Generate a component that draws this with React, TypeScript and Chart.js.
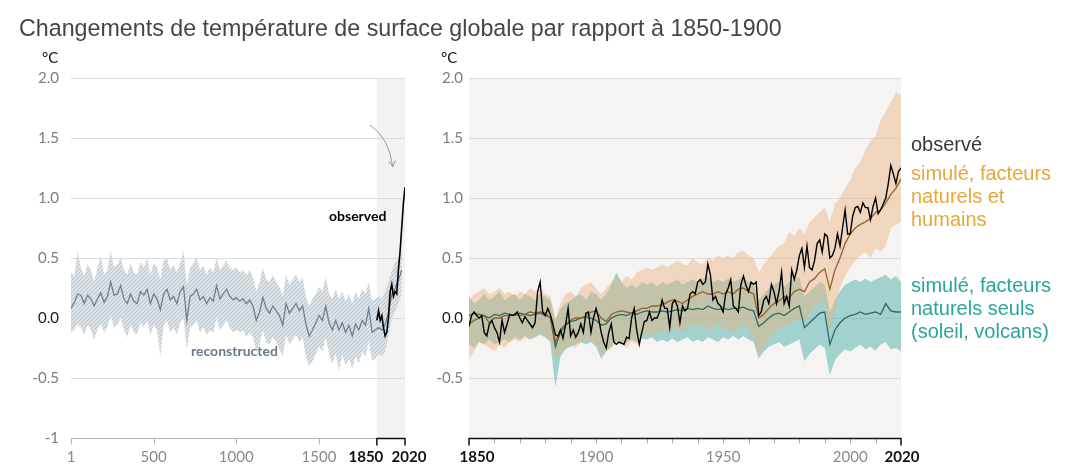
import React, { useEffect, useRef } from 'react';
import { Chart, registerables } from 'chart.js';

Chart.register(...registerables);

// ---------- DATA ----------
// Left panel: reconstructed (every 20 years from year 1)
const RECON_START = 1;
const RECON_STEP = 20;
const RECON_MEDIAN = [
  0.08, 0.13, 0.20, 0.19, 0.12, 0.19, 0.16, 0.10, 0.16, 0.21,
  0.13, 0.18, 0.30, 0.19, 0.20, 0.27, 0.16, 0.12, 0.20, 0.14,
  0.12, 0.22, 0.19, 0.24, 0.12, 0.20, 0.16, 0.07, 0.20, 0.24,
  0.15, 0.18, 0.12, 0.22, 0.26, -0.02, 0.18, 0.20, 0.24, 0.15,
  0.18, 0.12, 0.17, 0.14, 0.27, 0.16, 0.20, 0.24, 0.18, 0.15,
  0.17, 0.14, 0.16, 0.12, 0.15, 0.10, -0.02, 0.05, 0.17, 0.08,
  0.04, 0.10, 0.06, 0.02, -0.06, 0.12, 0.04, 0.08, 0.12, 0.06,
  0.10, -0.05, -0.15, -0.10, -0.04, 0.02, -0.02, 0.10, -0.04, -0.10,
  -0.02, -0.10, -0.04, -0.12, -0.06, -0.15, -0.05, -0.10, -0.02, -0.06,
  0.08, -0.12, -0.10, -0.08, -0.10, -0.05, 0.05, 0.20, 0.25, 0.32,
  0.40,
];
const RECON_UPPER = [
  0.38, 0.35, 0.55, 0.42, 0.35, 0.45, 0.40, 0.30, 0.42, 0.52,
  0.36, 0.40, 0.56, 0.42, 0.45, 0.50, 0.40, 0.36, 0.45, 0.38,
  0.36, 0.47, 0.42, 0.50, 0.36, 0.46, 0.42, 0.32, 0.48, 0.50,
  0.40, 0.44, 0.38, 0.46, 0.56, 0.28, 0.42, 0.46, 0.50, 0.40,
  0.44, 0.36, 0.42, 0.38, 0.50, 0.40, 0.44, 0.48, 0.42, 0.40,
  0.42, 0.38, 0.40, 0.36, 0.40, 0.34, 0.22, 0.30, 0.42, 0.32,
  0.30, 0.36, 0.30, 0.26, 0.18, 0.36, 0.28, 0.32, 0.36, 0.30,
  0.34, 0.18, 0.10, 0.16, 0.20, 0.26, 0.22, 0.34, 0.20, 0.16,
  0.24, 0.16, 0.22, 0.14, 0.20, 0.12, 0.22, 0.16, 0.24, 0.20,
  0.30, 0.14, 0.16, 0.18, 0.16, 0.22, 0.30, 0.40, 0.46, 0.50,
  0.56,
];
const RECON_LOWER = [
  -0.12, -0.10, -0.05, -0.08, -0.14, -0.06, -0.10, -0.18, -0.10, -0.05,
  -0.12, -0.08, 0.02, -0.08, -0.06, 0.00, -0.10, -0.16, -0.06, -0.12,
  -0.14, -0.04, -0.08, -0.02, -0.14, -0.06, -0.10, -0.32, -0.06, -0.02,
  -0.12, -0.08, -0.14, -0.04, 0.00, -0.26, -0.08, -0.06, -0.02, -0.12,
  -0.08, -0.14, -0.10, -0.12, 0.00, -0.10, -0.06, -0.02, -0.08, -0.12,
  -0.10, -0.12, -0.10, -0.16, -0.12, -0.16, -0.28, -0.22, -0.10, -0.20,
  -0.22, -0.16, -0.20, -0.26, -0.32, -0.14, -0.22, -0.18, -0.14, -0.20,
  -0.16, -0.32, -0.40, -0.36, -0.30, -0.24, -0.28, -0.16, -0.30, -0.38,
  -0.30, -0.44, -0.30, -0.40, -0.34, -0.42, -0.32, -0.38, -0.28, -0.32,
  -0.20, -0.36, -0.34, -0.30, -0.32, -0.28, -0.14, 0.00, 0.06, 0.12,
  0.22,
];

// Left panel: observed, decadal
const OBS_DECADAL_START = 1850;
const OBS_DECADAL_STEP = 10;
const OBS_DECADAL = [
  -0.02, 0.06, -0.02, 0.02, -0.08, -0.15, -0.12, 0.00, 0.22, 0.28,
  0.18, 0.22, 0.20, 0.40, 0.55, 0.75, 0.95, 1.09,
];

// Right panel: observed, annual 1850-2020
const OBS_START = 1850;
const OBS_ANNUAL = [
  -0.07, 0.02, 0.05, 0.02, 0.00, 0.02, -0.12, -0.15, -0.05, -0.02,
  -0.08, -0.12, -0.20, -0.02, -0.12, -0.05, 0.03, 0.02, 0.03, 0.05,
  0.00, -0.04, 0.01, -0.02, -0.05, -0.08, -0.04, 0.22, 0.30, 0.05,
  0.02, 0.08, 0.03, -0.05, -0.14, -0.15, -0.10, -0.17, -0.06, 0.08,
  -0.15, -0.10, -0.16, -0.12, -0.05, -0.12, 0.04, 0.05, -0.12, 0.00,
  0.08, 0.00, -0.12, -0.20, -0.25, -0.12, -0.05, -0.20, -0.22, -0.20,
  -0.21, -0.22, -0.16, -0.17, 0.00, 0.08, -0.10, -0.22, -0.12, -0.03,
  -0.02, 0.05, -0.02, 0.00, 0.00, 0.05, 0.15, 0.08, 0.08, -0.08,
  0.12, 0.15, 0.10, -0.04, 0.10, 0.06, 0.08, 0.20, 0.22, 0.20,
  0.30, 0.32, 0.28, 0.30, 0.45, 0.36, 0.15, 0.18, 0.12, 0.10,
  0.05, 0.20, 0.25, 0.32, 0.10, 0.08, 0.05, 0.28, 0.35, 0.27,
  0.22, 0.30, 0.28, 0.30, 0.02, 0.05, 0.15, 0.18, 0.12, 0.28,
  0.22, 0.12, 0.22, 0.38, 0.12, 0.18, 0.10, 0.40, 0.32, 0.40,
  0.52, 0.58, 0.42, 0.60, 0.42, 0.40, 0.48, 0.62, 0.65, 0.55,
  0.70, 0.68, 0.50, 0.52, 0.58, 0.70, 0.60, 0.75, 0.90, 0.70,
  0.70, 0.85, 0.92, 0.93, 0.88, 0.96, 0.92, 0.92, 0.82, 0.93,
  1.00, 0.87, 0.90, 0.95, 1.00, 1.12, 1.27, 1.20, 1.12, 1.22,
  1.25,
];

// Right panel: simulations, every 2 years 1850-2020
const SIM_START = 1850;
const SIM_STEP = 2;
const SIM_HUMAN_NATURAL = [
  -0.05, -0.02, 0.00, 0.02, -0.04, 0.00, 0.00, 0.02, 0.02, 0.03,
  0.02, 0.03, 0.05, 0.04, 0.05, 0.04, 0.00, -0.20, -0.10, -0.05,
  -0.02, 0.00, 0.00, 0.02, 0.05, 0.06, 0.00, -0.03, 0.03, 0.05,
  0.06, 0.05, 0.04, 0.06, 0.08, 0.08, 0.10, 0.10, 0.11, 0.13,
  0.15, 0.14, 0.12, 0.15, 0.18, 0.20, 0.22, 0.20, 0.20, 0.22,
  0.20, 0.22, 0.20, 0.24, 0.25, 0.22, 0.20, 0.00, 0.03, 0.08,
  0.12, 0.14, 0.18, 0.17, 0.22, 0.24, 0.22, 0.30, 0.33, 0.38,
  0.41, 0.24, 0.40, 0.50, 0.62, 0.70, 0.75, 0.78, 0.80, 0.83,
  0.88, 0.90, 0.96, 1.03, 1.08, 1.16,
];
const SIM_HUMAN_NATURAL_HI = [
  0.15, 0.20, 0.22, 0.25, 0.20, 0.22, 0.25, 0.20, 0.22, 0.18,
  0.22, 0.20, 0.25, 0.22, 0.25, 0.20, 0.18, 0.00, 0.12, 0.20,
  0.22, 0.18, 0.25, 0.28, 0.30, 0.25, 0.20, 0.25, 0.30, 0.35,
  0.30, 0.35, 0.32, 0.38, 0.40, 0.42, 0.40, 0.42, 0.45, 0.42,
  0.45, 0.48, 0.45, 0.44, 0.50, 0.46, 0.45, 0.50, 0.48, 0.52,
  0.50, 0.52, 0.50, 0.55, 0.56, 0.52, 0.50, 0.38, 0.45, 0.50,
  0.55, 0.60, 0.62, 0.72, 0.68, 0.75, 0.70, 0.80, 0.84, 0.88,
  0.92, 0.80, 0.95, 1.00, 1.08, 1.15, 1.25, 1.30, 1.40, 1.48,
  1.52, 1.65, 1.72, 1.80, 1.88, 1.86,
];
const SIM_HUMAN_NATURAL_LO = [
  -0.35, -0.28, -0.20, -0.22, -0.25, -0.28, -0.22, -0.25, -0.20, -0.18,
  -0.20, -0.16, -0.18, -0.15, -0.12, -0.15, -0.20, -0.35, -0.30, -0.25,
  -0.22, -0.25, -0.20, -0.18, -0.20, -0.22, -0.30, -0.28, -0.25, -0.20,
  -0.22, -0.25, -0.20, -0.22, -0.15, -0.12, -0.15, -0.12, -0.10, -0.12,
  -0.08, -0.10, -0.12, -0.08, -0.05, -0.08, -0.05, -0.10, -0.08, -0.05,
  -0.10, -0.08, -0.12, -0.08, -0.05, -0.10, -0.15, -0.32, -0.25, -0.18,
  -0.12, -0.10, -0.05, -0.08, -0.02, 0.00, -0.05, 0.05, 0.10, 0.12,
  0.15, -0.12, 0.05, 0.25, 0.35, 0.42, 0.48, 0.52, 0.55, 0.50,
  0.58, 0.55, 0.60, 0.75, 0.78, 0.80,
];
const SIM_NATURAL = [
  0.02, 0.04, 0.03, 0.02, 0.00, 0.03, 0.02, 0.04, 0.03, 0.02,
  0.04, 0.03, 0.02, 0.03, 0.04, 0.02, 0.01, -0.24, -0.12, -0.06,
  -0.03, -0.02, 0.00, 0.01, 0.00, -0.02, -0.06, -0.05, 0.00, 0.02,
  0.03, 0.02, 0.04, 0.03, 0.05, 0.06, 0.05, 0.05, 0.06, 0.05,
  0.06, 0.07, 0.06, 0.08, 0.07, 0.08, 0.07, 0.10, 0.08, 0.07,
  0.08, 0.07, 0.08, 0.08, 0.09, 0.07, 0.06, -0.07, -0.04, 0.00,
  0.03, 0.04, 0.02, 0.05, 0.08, 0.10, -0.08, -0.04, 0.00, 0.04,
  0.05, -0.22, -0.10, -0.04, 0.00, 0.02, 0.03, 0.05, 0.03, 0.04,
  0.05, 0.03, 0.12, 0.06, 0.05, 0.05,
];
const SIM_NATURAL_HI = [
  0.18, 0.12, 0.15, 0.20, 0.15, 0.18, 0.22, 0.15, 0.18, 0.20,
  0.15, 0.20, 0.18, 0.15, 0.20, 0.18, 0.15, -0.02, 0.08, 0.12,
  0.15, 0.18, 0.20, 0.15, 0.22, 0.20, 0.15, 0.20, 0.28, 0.38,
  0.30, 0.25, 0.28, 0.25, 0.30, 0.28, 0.30, 0.26, 0.30, 0.28,
  0.30, 0.32, 0.28, 0.30, 0.32, 0.30, 0.33, 0.35, 0.30, 0.32,
  0.30, 0.33, 0.30, 0.32, 0.34, 0.30, 0.28, 0.15, 0.20, 0.25,
  0.28, 0.30, 0.26, 0.30, 0.32, 0.34, 0.18, 0.22, 0.26, 0.30,
  0.28, 0.05, 0.15, 0.22, 0.28, 0.30, 0.32, 0.30, 0.33, 0.30,
  0.32, 0.34, 0.36, 0.32, 0.35, 0.30,
];
const SIM_NATURAL_LO = [
  -0.22, -0.25, -0.20, -0.22, -0.18, -0.22, -0.20, -0.18, -0.20, -0.16,
  -0.18, -0.15, -0.18, -0.16, -0.14, -0.16, -0.20, -0.58, -0.32, -0.26,
  -0.24, -0.22, -0.20, -0.22, -0.20, -0.24, -0.34, -0.28, -0.24, -0.20,
  -0.22, -0.20, -0.18, -0.20, -0.17, -0.18, -0.16, -0.20, -0.18, -0.20,
  -0.17, -0.20, -0.18, -0.16, -0.20, -0.18, -0.20, -0.16, -0.18, -0.20,
  -0.16, -0.18, -0.15, -0.18, -0.15, -0.18, -0.20, -0.34, -0.28, -0.24,
  -0.22, -0.20, -0.24, -0.22, -0.20, -0.18, -0.36, -0.30, -0.26, -0.22,
  -0.25, -0.48, -0.35, -0.30, -0.26, -0.28, -0.25, -0.22, -0.26, -0.24,
  -0.27, -0.22, -0.20, -0.26, -0.25, -0.28,
];

// Axes
const Y_TICKS = [2, 1.5, 1, 0.5, 0, -0.5, -1];
const LEFT_X_LABELS = [1, 500, 1000, 1500, 1850, 2020];
const LEFT_X_BOLD = [1850, 2020];
const RIGHT_X_LABELS = [1850, 1900, 1950, 2000, 2020];
const RIGHT_X_BOLD = [1850, 2020];
const RIGHT_MINOR_STEP = 10;

// ---------- HELPERS ----------
const toXY = (start: number, step: number, arr: number[]) =>
  arr.map((y, i) => ({ x: start + i * step, y }));

const FONT = "Lato, 'Liberation Sans', sans-serif";
const SANS = "'Liberation Sans', Arial, sans-serif";

const yTickLabel = (showMinusOne: boolean) => (v: any) => {
  const n = Number(v);
  if (n === -1) return showMinusOne ? '-1' : '';
  return n.toFixed(1);
};

function yScale(width: number, pad: number, showMinusOne: boolean) {
  return {
    min: -1,
    max: 2,
    afterBuildTicks: (s: any) => {
      s.ticks = Y_TICKS.map((v) => ({ value: v }));
    },
    afterFit: (s: any) => {
      s.width = width;
    },
    border: { display: false },
    grid: {
      drawTicks: false,
      color: (c: any) => (c.tick && c.tick.value === -1 ? 'rgba(0,0,0,0)' : '#dcdcdc'),
      lineWidth: 1,
    },
    ticks: {
      padding: pad,
      callback: yTickLabel(showMinusOne),
      color: (c: any) => (c.tick && c.tick.value === 0 ? '#1a1a1a' : '#7d7d7d'),
      font: { family: FONT, size: 15 },
    },
  };
}

function xScale(min: number, max: number) {
  return {
    type: 'linear' as const,
    min,
    max,
    afterFit: (s: any) => {
      s.height = 36;
    },
    border: { display: false },
    grid: { display: false },
    ticks: { display: false },
  };
}

function drawXLabel(ctx: CanvasRenderingContext2D, text: string, x: number, y: number, bold: boolean) {
  ctx.font = (bold ? 'bold ' : '') + '15px ' + FONT;
  ctx.fillStyle = bold ? '#111111' : '#8a8a8a';
  ctx.textAlign = 'center';
  ctx.textBaseline = 'alphabetic';
  ctx.fillText(text, x, y);
}

const leftDecor = {
  id: 'leftDecor',
  beforeDraw(chart: any) {
    const { ctx, chartArea: a, scales } = chart;
    const x0 = scales.x.getPixelForValue(1850);
    const x1 = scales.x.getPixelForValue(2020);
    ctx.save();
    ctx.fillStyle = '#f2f2f2';
    ctx.fillRect(x0, a.top, x1 - x0, a.bottom - a.top);
    ctx.restore();
  },
  afterDraw(chart: any) {
    const { ctx, chartArea: a, scales } = chart;
    const xs = scales.x;
    const ys = scales.y;
    const yb = a.bottom + 0.5;
    const x1850 = xs.getPixelForValue(1850);
    const x2020 = xs.getPixelForValue(2020);
    ctx.save();
    ctx.strokeStyle = '#b8b8b8';
    ctx.lineWidth = 1;
    ctx.beginPath();
    ctx.moveTo(a.left, yb);
    ctx.lineTo(x1850, yb);
    ctx.stroke();
    LEFT_X_LABELS.forEach((v) => {
      if (LEFT_X_BOLD.includes(v)) return;
      const px = Math.round(xs.getPixelForValue(v)) + 0.5;
      ctx.beginPath();
      ctx.moveTo(px, yb);
      ctx.lineTo(px, yb + 6);
      ctx.stroke();
    });
    ctx.strokeStyle = '#111111';
    ctx.lineWidth = 1.5;
    ctx.beginPath();
    ctx.moveTo(x1850, yb + 7);
    ctx.lineTo(x1850, yb);
    ctx.lineTo(x2020, yb);
    ctx.lineTo(x2020, yb + 7);
    ctx.stroke();
    LEFT_X_LABELS.forEach((v) => {
      const bold = LEFT_X_BOLD.includes(v);
      let px = xs.getPixelForValue(v);
      if (v === 1850) px -= 11;
      if (v === 2020) px += 4;
      drawXLabel(ctx, String(v), px, 462, bold);
    });
    // arrow pointing at the observed rise
    const sx = xs.getPixelForValue(1807), sy = ys.getPixelForValue(1.61);
    const cx = xs.getPixelForValue(1925), cy = ys.getPixelForValue(1.5);
    const ex = xs.getPixelForValue(1946), ey = ys.getPixelForValue(1.26);
    ctx.strokeStyle = '#9a9a9a';
    ctx.lineWidth = 1;
    ctx.beginPath();
    ctx.moveTo(sx, sy);
    ctx.quadraticCurveTo(cx, cy, ex, ey);
    ctx.stroke();
    const ang = Math.atan2(ey - cy, ex - cx);
    const len = 7;
    ctx.beginPath();
    ctx.moveTo(ex - len * Math.cos(ang - 0.5), ey - len * Math.sin(ang - 0.5));
    ctx.lineTo(ex, ey);
    ctx.lineTo(ex - len * Math.cos(ang + 0.5), ey - len * Math.sin(ang + 0.5));
    ctx.stroke();
    ctx.restore();
  },
};

const rightDecor = {
  id: 'rightDecor',
  beforeDraw(chart: any) {
    const { ctx, chartArea: a } = chart;
    ctx.save();
    ctx.fillStyle = '#f5f4f2';
    ctx.fillRect(a.left, a.top, a.right - a.left, a.bottom - a.top);
    ctx.restore();
  },
  afterDraw(chart: any) {
    const { ctx, chartArea: a, scales } = chart;
    const xs = scales.x;
    const yb = a.bottom + 0.5;
    const min = xs.min, max = xs.max;
    ctx.save();
    ctx.strokeStyle = '#aaaaaa';
    ctx.lineWidth = 1;
    for (let yr = min + RIGHT_MINOR_STEP; yr < max; yr += RIGHT_MINOR_STEP) {
      const px = Math.round(xs.getPixelForValue(yr)) + 0.5;
      ctx.beginPath();
      ctx.moveTo(px, yb);
      ctx.lineTo(px, yb + 5);
      ctx.stroke();
    }
    ctx.strokeStyle = '#111111';
    ctx.lineWidth = 1.5;
    const x0 = xs.getPixelForValue(min), x1 = xs.getPixelForValue(max);
    ctx.beginPath();
    ctx.moveTo(x0, yb + 7);
    ctx.lineTo(x0, yb);
    ctx.lineTo(x1, yb);
    ctx.lineTo(x1, yb + 7);
    ctx.stroke();
    RIGHT_X_LABELS.forEach((v) => {
      const bold = RIGHT_X_BOLD.includes(v);
      let px = xs.getPixelForValue(v);
      if (v === 1850) px += 8;
      if (v === 2020) px += 1;
      drawXLabel(ctx, String(v), px, 462, bold);
    });
    ctx.restore();
  },
};

const bandLine = {
  borderWidth: 0,
  borderColor: 'rgba(0,0,0,0)',
  pointRadius: 0,
};

export default function App() {
  const leftRef = useRef<HTMLCanvasElement | null>(null);
  const rightRef = useRef<HTMLCanvasElement | null>(null);

  useEffect(() => {
    document.body.style.margin = '0';
    Chart.defaults.font.family = FONT;
    const lc = leftRef.current!;
    const rc = rightRef.current!;

    // hatch pattern for reconstructed band
    const pc = document.createElement('canvas');
    pc.width = 4;
    pc.height = 4;
    const g = pc.getContext('2d')!;
    g.fillStyle = '#dbe2e7';
    g.fillRect(0, 0, 4, 4);
    g.strokeStyle = '#b2bfca';
    g.lineWidth = 0.9;
    g.beginPath();
    g.moveTo(0, 4); g.lineTo(4, 0);
    g.moveTo(-1, 1); g.lineTo(1, -1);
    g.moveTo(3, 5); g.lineTo(5, 3);
    g.stroke();
    const hatch: any = lc.getContext('2d')!.createPattern(pc, 'repeat') || '#cdd5dc';

    const common = {
      animation: false as const,
      responsive: false,
      maintainAspectRatio: false,
      events: [] as any[],
      plugins: { legend: { display: false }, tooltip: { enabled: false } },
    };

    const left = new Chart(lc, {
      type: 'line',
      data: {
        datasets: [
          {
            data: toXY(OBS_DECADAL_START, OBS_DECADAL_STEP, OBS_DECADAL),
            borderColor: '#000000',
            borderWidth: 1.6,
            pointRadius: 0,
            fill: false,
            order: 0,
          },
          {
            data: toXY(RECON_START, RECON_STEP, RECON_MEDIAN),
            borderColor: '#6c8093',
            borderWidth: 1.3,
            pointRadius: 0,
            fill: false,
            order: 1,
          },
          {
            data: toXY(RECON_START, RECON_STEP, RECON_UPPER),
            ...bandLine,
            backgroundColor: hatch,
            fill: '+1',
            order: 2,
          },
          {
            data: toXY(RECON_START, RECON_STEP, RECON_LOWER),
            ...bandLine,
            fill: false,
            order: 3,
          },
        ],
      },
      options: {
        ...common,
        layout: { padding: { left: 0, right: 25, top: 78, bottom: 0 } },
        scales: {
          x: xScale(1, 2020),
          y: yScale(71, 12, true),
        } as any,
      },
      plugins: [leftDecor],
    });

    const right = new Chart(rc, {
      type: 'line',
      data: {
        datasets: [
          {
            data: toXY(OBS_START, 1, OBS_ANNUAL),
            borderColor: '#000000',
            borderWidth: 1.4,
            pointRadius: 0,
            fill: false,
            order: 0,
          },
          {
            data: toXY(SIM_START, SIM_STEP, SIM_HUMAN_NATURAL),
            borderColor: '#94602a',
            borderWidth: 1.3,
            pointRadius: 0,
            fill: false,
            order: 1,
          },
          {
            data: toXY(SIM_START, SIM_STEP, SIM_NATURAL),
            borderColor: '#2d6b5d',
            borderWidth: 1.3,
            pointRadius: 0,
            fill: false,
            order: 2,
          },
          {
            data: toXY(SIM_START, SIM_STEP, SIM_HUMAN_NATURAL_HI),
            ...bandLine,
            backgroundColor: 'rgba(236,176,126,0.44)',
            fill: '+1',
            order: 3,
          },
          {
            data: toXY(SIM_START, SIM_STEP, SIM_HUMAN_NATURAL_LO),
            ...bandLine,
            fill: false,
            order: 4,
          },
          {
            data: toXY(SIM_START, SIM_STEP, SIM_NATURAL_HI),
            ...bandLine,
            backgroundColor: 'rgba(62,168,162,0.45)',
            fill: '+1',
            order: 5,
          },
          {
            data: toXY(SIM_START, SIM_STEP, SIM_NATURAL_LO),
            ...bandLine,
            fill: false,
            order: 6,
          },
        ],
      },
      options: {
        ...common,
        layout: { padding: { left: 0, right: 25, top: 78, bottom: 0 } },
        scales: {
          x: xScale(1850, 2020),
          y: yScale(39, 6, false),
        } as any,
      },
      plugins: [rightDecor],
    });

    return () => {
      left.destroy();
      right.destroy();
    };
  }, []);

  const abs = (s: React.CSSProperties): React.CSSProperties => ({ position: 'absolute', whiteSpace: 'nowrap', margin: 0, ...s });

  return (
    <div style={{ position: 'relative', width: 1076, height: 474, background: '#ffffff', overflow: 'hidden' }}>
      <canvas ref={leftRef} width={430} height={474} style={{ position: 'absolute', left: 0, top: 0, width: 430, height: 474 }} />
      <canvas ref={rightRef} width={496} height={474} style={{ position: 'absolute', left: 430, top: 0, width: 496, height: 474 }} />
      <div style={abs({ left: 19, top: 17, fontFamily: SANS, fontSize: 23.25, lineHeight: '23px', color: '#454545' })}>
        Changements de température de surface globale par rapport à 1850-1900
      </div>
      <div style={abs({ left: 42, top: 50, fontFamily: FONT, fontSize: 15, lineHeight: '15px', color: '#111' })}>°C</div>
      <div style={abs({ left: 441, top: 50, fontFamily: FONT, fontSize: 15, lineHeight: '15px', color: '#111' })}>°C</div>
      <div style={abs({ left: 329, top: 209, fontFamily: FONT, fontWeight: 700, fontSize: 14, lineHeight: '14px', color: '#000' })}>observed</div>
      <div style={abs({ left: 191, top: 344, fontFamily: FONT, fontWeight: 700, fontSize: 14, lineHeight: '14px', color: '#687a8b' })}>reconstructed</div>
      <div style={abs({ left: 911, top: 133, fontFamily: SANS, fontSize: 20, lineHeight: '23px', color: '#383838' })}>observé</div>
      <div style={abs({ left: 911, top: 162, fontFamily: SANS, fontSize: 20, lineHeight: '23px', color: '#e8a636' })}>
        simulé, facteurs<br />naturels et<br />humains
      </div>
      <div style={abs({ left: 911, top: 274, fontFamily: SANS, fontSize: 20, lineHeight: '23px', color: '#2aa49f' })}>
        simulé, facteurs<br />naturels seuls<br />(soleil, volcans)
      </div>
    </div>
  );
}
